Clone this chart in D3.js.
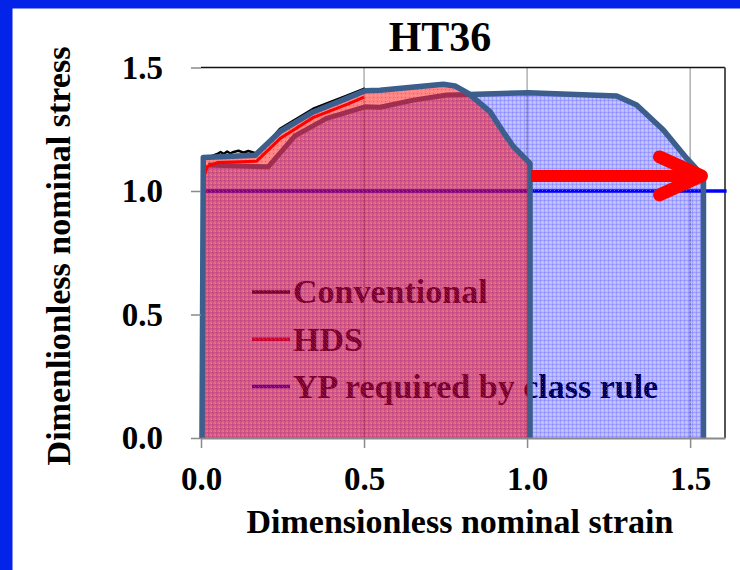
<!DOCTYPE html>
<html>
<head>
<meta charset="utf-8">
<script src="https://cdn.jsdelivr.net/npm/d3@7"></script>
<style>
	body { margin: 0; background: #fff; }
	svg { display: block; font-family: "Liberation Serif", "Times New Roman", serif; font-weight: bold; }
</style>
</head>
<body>
<div id="chart"></div>
<script>
// data
const xTicks = [0, 0.5, 1.0, 1.5];
const yTicks = [0, 0.5, 1.0, 1.5];

// short curve (red area) outline
const convStrain = [0.003, 0.007, 0.166, 0.242, 0.344, 0.447, 0.503, 0.549, 0.743, 0.779, 0.82, 0.887, 0.933, 0.958, 1.009, 1.009];
const convStress = [0, 1.136, 1.145, 1.24, 1.32, 1.375, 1.406, 1.408, 1.432, 1.425, 1.395, 1.32, 1.227, 1.18, 1.112, 0];

// long curve (blue area): lower curve, then the extension
const hdsStrain = [0.005, 0.01, 0.022, 0.206, 0.288, 0.385, 0.503, 0.549, 0.651, 0.754, 0.823, 1.004, 1.275, 1.336, 1.418, 1.49, 1.541, 1.541];
const hdsStress = [0, 1.08, 1.105, 1.098, 1.223, 1.294, 1.341, 1.339, 1.368, 1.389, 1.391, 1.398, 1.385, 1.348, 1.247, 1.132, 1.058, 0];

// black serrated yield line peeking above the outline
const serrStrain = [0.03, 0.05, 0.06, 0.07, 0.08, 0.09, 0.1, 0.115, 0.13, 0.145, 0.16, 0.175, 0.242, 0.344, 0.447, 0.503];
const serrStress = [1.14, 1.15, 1.158, 1.15, 1.16, 1.152, 1.158, 1.163, 1.155, 1.162, 1.156, 1.15, 1.252, 1.333, 1.386, 1.415];

// red HDS line under the outline
const redStrain = [0.012, 0.02, 0.05, 0.17, 0.245, 0.345, 0.45, 0.5];
const redStress = [1.07, 1.1, 1.115, 1.12, 1.215, 1.298, 1.352, 1.38];

const ypStress = 1.0;
const arrowStrain = [1.012, 1.535];
const arrowStress = 1.061;

const legendNames = ['Conventional', 'HDS', 'YP required by class rule'];
const legendColors = ['#000000', '#ff0000', '#0000ff'];

const pts = (xs, ys) => xs.map((d, i) => [d, ys[i]]);

const W = 740;
const H = 570;

const x = d3.scaleLinear().domain([0, 1.607]).range([201, 725]);
const y = d3.scaleLinear().domain([0, 1.5]).range([438, 67.5]);
const line = d3.line().x(d => x(d[0])).y(d => y(d[1]));

const $svg = d3.select('#chart').append('svg').attr('width', W).attr('height', H);

// patterns
const $defs = $svg.append('defs');
const $pb = $defs.append('pattern').attr('id', 'pat-blue')
	.attr('width', 4).attr('height', 4).attr('patternUnits', 'userSpaceOnUse');
$pb.append('rect').attr('width', 4).attr('height', 4).attr('fill', 'rgba(0,0,255,0.27)');
$pb.append('rect').attr('width', 4).attr('height', 1).attr('fill', 'rgba(0,0,255,0.14)');
$pb.append('rect').attr('width', 1).attr('height', 4).attr('fill', 'rgba(0,0,255,0.14)');
$pb.append('rect').attr('x', 2).attr('y', 2).attr('width', 1).attr('height', 1).attr('fill', 'rgba(255,255,255,0.35)');

const $pr = $defs.append('pattern').attr('id', 'pat-red')
	.attr('width', 4).attr('height', 4).attr('patternUnits', 'userSpaceOnUse');
$pr.append('rect').attr('width', 4).attr('height', 4).attr('fill', 'rgba(255,0,0,0.48)');
$pr.append('rect').attr('x', 1).attr('y', 1).attr('width', 1).attr('height', 1).attr('fill', 'rgba(160,0,60,0.3)');
$pr.append('rect').attr('x', 3).attr('y', 3).attr('width', 1).attr('height', 1).attr('fill', 'rgba(255,255,255,0.2)');

// slide border
$svg.append('rect').attr('width', W).attr('height', 8.5).attr('fill', '#0323e8');
$svg.append('rect').attr('width', 12.5).attr('height', H).attr('fill', '#0323e8');

// vertical grid
$svg.append('g').selectAll('line').data(xTicks.slice(1)).join('line')
	.attr('x1', d => x(d)).attr('x2', d => x(d))
	.attr('y1', y(1.5)).attr('y2', y(0))
	.attr('stroke', '#8a8a8a').attr('stroke-width', 1);

// frame top / right
$svg.append('line').attr('x1', x(0)).attr('x2', x(1.607)).attr('y1', y(1.5)).attr('y2', y(1.5))
	.attr('stroke', '#111').attr('stroke-width', 1.5);
$svg.append('line').attr('x1', x(1.607)).attr('x2', x(1.607)).attr('y1', y(1.5)).attr('y2', y(0))
	.attr('stroke', '#555').attr('stroke-width', 2);

// YP required line
$svg.append('line').attr('x1', x(0)).attr('x2', x(1.612)).attr('y1', y(ypStress)).attr('y2', y(ypStress))
	.attr('stroke', '#0000ff').attr('stroke-width', 3.5);

// legend (under the translucent fills)
const $legend = $svg.append('g').attr('class', 'legend');
legendNames.forEach((name, i) => {
	const ly = 292 + i * 47.3;
	$legend.append('line').attr('x1', 252).attr('x2', 290).attr('y1', ly).attr('y2', ly)
		.attr('stroke', legendColors[i]).attr('stroke-width', 3.5);
	$legend.append('text').attr('x', 293).attr('y', ly + 11.3)
		.attr('font-size', 34).attr('fill', '#000').text(name);
});

// fills
const bluePts = pts(hdsStrain, hdsStress);
const redPts = pts(convStrain, convStress);
$svg.append('path').attr('d', line(bluePts) + 'Z').attr('fill', 'url(#pat-blue)');
$svg.append('path').attr('d', line(redPts) + 'Z').attr('fill', 'url(#pat-red)');

// lower dark line and red line
$svg.append('path').attr('d', line(bluePts.slice(2, 11))).attr('fill', 'none')
	.attr('stroke', '#a02e50').attr('stroke-width', 5).attr('stroke-linejoin', 'round');
$svg.append('path').attr('d', line(pts(redStrain, redStress))).attr('fill', 'none')
	.attr('stroke', '#ff0000').attr('stroke-width', 3).attr('stroke-linejoin', 'round');
$svg.append('path').attr('d', line(pts(serrStrain, serrStress))).attr('fill', 'none')
	.attr('stroke', '#000').attr('stroke-width', 2.5).attr('stroke-linejoin', 'round');

// outlines
$svg.append('path').attr('d', line(redPts)).attr('fill', 'none')
	.attr('stroke', '#3b5e8c').attr('stroke-width', 5.5).attr('stroke-linejoin', 'round');
$svg.append('path').attr('d', line(bluePts.slice(10))).attr('fill', 'none')
	.attr('stroke', '#3b5e8c').attr('stroke-width', 5.5).attr('stroke-linejoin', 'round');

// axes
const $yAxis = $svg.append('g').attr('transform', `translate(${x(0)},0)`)
	.call(d3.axisLeft(y).tickValues(yTicks).tickFormat(d3.format('.1f')).tickSize(10).tickPadding(28));
const $xAxis = $svg.append('g').attr('transform', `translate(0,${y(0)})`)
	.call(d3.axisBottom(x).tickValues(xTicks).tickFormat(d3.format('.1f')).tickSize(10).tickSizeOuter(0));
[$yAxis, $xAxis].forEach($a => {
	$a.attr('font-family', null).attr('font-size', null);
	$a.select('.domain').attr('stroke', '#8a8a8a').attr('stroke-width', 2);
	$a.selectAll('.tick line').attr('stroke', '#8a8a8a').attr('stroke-width', 1.5);
	$a.selectAll('.tick text').attr('fill', '#000').attr('font-size', 33);
});
$yAxis.select('.domain').remove();
$xAxis.selectAll('.tick text').attr('dy', null).attr('y', 52);

// arrow
const ay = y(arrowStress);
const tipX = x(arrowStrain[1]);
$svg.append('line').attr('x1', x(arrowStrain[0])).attr('x2', tipX - 4).attr('y1', ay).attr('y2', ay)
	.attr('stroke', '#ff0000').attr('stroke-width', 12);
$svg.append('path')
	.attr('d', `M${tipX - 42},${ay - 19}L${tipX},${ay}L${tipX - 42},${ay + 19}`)
	.attr('fill', 'none').attr('stroke', '#ff0000').attr('stroke-width', 13)
	.attr('stroke-linecap', 'round').attr('stroke-linejoin', 'round');

// titles
$svg.append('text').attr('x', 440).attr('y', 51).attr('text-anchor', 'middle')
	.attr('font-size', 42).text('HT36');
$svg.append('text').attr('x', 460).attr('y', 533).attr('text-anchor', 'middle')
	.attr('font-size', 34).text('Dimensionless nominal strain');
$svg.append('text').attr('transform', 'translate(70,256) rotate(-90)').attr('text-anchor', 'middle')
	.attr('font-size', 34).text('Dimenlionless nominal stress');
</script>
</body>
</html>
